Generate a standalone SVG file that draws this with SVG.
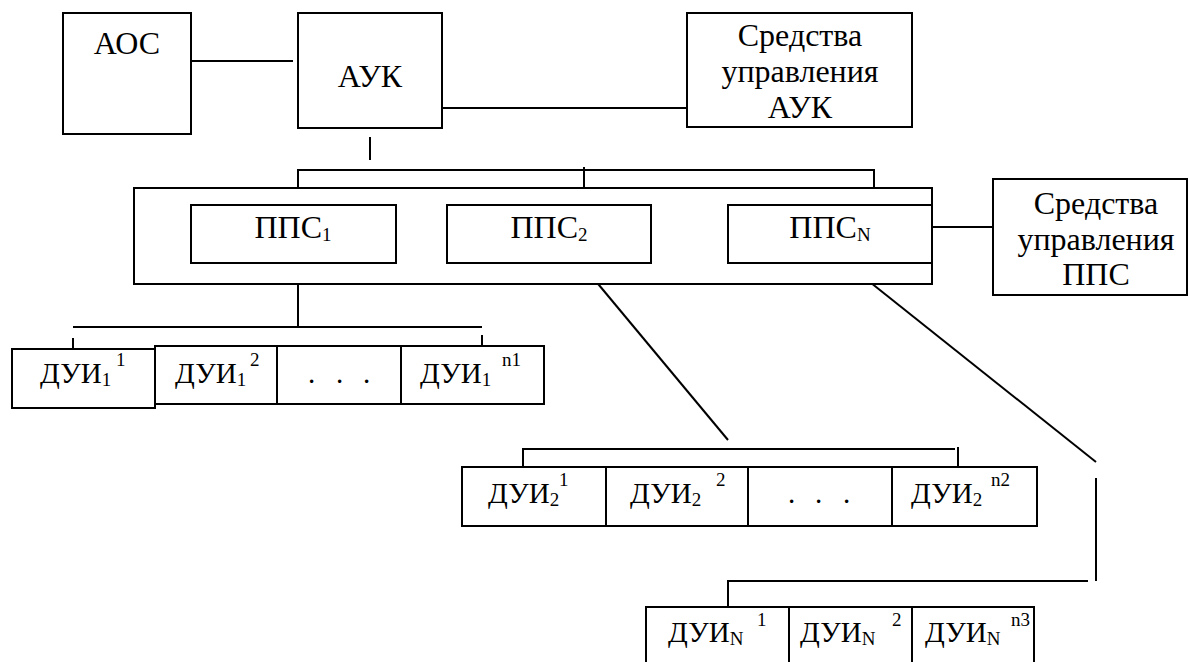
<svg xmlns="http://www.w3.org/2000/svg" width="1189" height="662" viewBox="0 0 1189 662" font-family="'Liberation Serif', 'DejaVu Serif', serif">
<style>
rect{fill:#fff;stroke:#000;stroke-width:2}
line,polyline{stroke:#000;stroke-width:2;fill:none}
text{fill:#000}
.t{font-size:32px}
.d{font-size:29px}
.s{font-size:19px}
</style>
<rect x="0" y="0" width="1189" height="662" style="stroke:none"/>
<g id="connectors">
<line x1="191" y1="61" x2="293" y2="61"/>
<line x1="442" y1="108" x2="687" y2="108"/>
<line x1="370" y1="137" x2="370" y2="160"/>
<polyline points="298,205 298,170 874,170 874,205"/>
<line x1="584" y1="167" x2="584" y2="205"/>
<line x1="932" y1="227" x2="993" y2="227"/>
<line x1="298" y1="268" x2="298" y2="327"/>
<line x1="73" y1="327" x2="482" y2="327"/>
<line x1="73" y1="338" x2="73" y2="353"/>
<line x1="482" y1="335" x2="482" y2="353"/>
<line x1="584" y1="267" x2="728" y2="440"/>
<polyline points="523,467 523,449 955,449"/>
<line x1="958" y1="447" x2="958" y2="470"/>
<line x1="851" y1="267" x2="1096" y2="462"/>
<line x1="1096" y1="478" x2="1096" y2="581"/>
<polyline points="728,607 728,581 1088,581"/>
</g>
<g id="aos">
<rect x="63" y="13" width="128" height="121"/>
<text class="t" x="127" y="54" text-anchor="middle">АОС</text>
</g>
<g id="auk">
<rect x="298" y="13" width="144" height="115"/>
<text class="t" x="370" y="87" text-anchor="middle">АУК</text>
</g>
<g id="sredstva-auk">
<rect x="687" y="13" width="225" height="114"/>
<text class="t" x="800" y="46" text-anchor="middle">Средства</text>
<text class="t" x="800" y="82" text-anchor="middle">управления</text>
<text class="t" x="800" y="118" text-anchor="middle">АУК</text>
</g>
<g id="pps-group">
<rect x="134" y="188" width="798" height="96"/>
</g>
<g id="pps1">
<rect x="191" y="205" width="205" height="58"/>
<text class="t" x="293" y="238" text-anchor="middle">ППС<tspan class="s" dy="3">1</tspan></text>
</g>
<g id="pps2">
<rect x="447" y="205" width="204" height="58"/>
<text class="t" x="549" y="238" text-anchor="middle">ППС<tspan class="s" dy="3">2</tspan></text>
</g>
<g id="ppsn">
<rect x="728" y="205" width="204" height="58"/>
<text class="t" x="830" y="238" text-anchor="middle">ППС<tspan class="s" dy="3">N</tspan></text>
</g>
<g id="sredstva-pps">
<rect x="993" y="179" width="194" height="116"/>
<text class="t" x="1096" y="214" text-anchor="middle">Средства</text>
<text class="t" x="1096" y="250" text-anchor="middle">управления</text>
<text class="t" x="1096" y="285" text-anchor="middle">ППС</text>
</g>
<g id="dui1-1">
<rect x="12" y="349" width="143" height="59"/>
<text class="d" x="40" y="383">ДУИ<tspan class="s" dy="3">1</tspan><tspan class="s" x="116" y="366">1</tspan></text>
</g>
<g id="dui1-2">
<rect x="155" y="346" width="122" height="58"/>
<text class="d" x="175" y="383">ДУИ<tspan class="s" dy="3">1</tspan><tspan class="s" x="250" y="366">2</tspan></text>
</g>
<g id="dui1-dots">
<rect x="277" y="346" width="124" height="58"/>
<text class="d" x="308 336 363" y="383">...</text>
</g>
<g id="dui1-n1">
<rect x="401" y="346" width="143" height="58"/>
<text class="d" x="420" y="383">ДУИ<tspan class="s" dy="3">1</tspan><tspan class="s" x="502" y="366">n1</tspan></text>
</g>
<g id="dui2-1">
<rect x="462" y="467" width="144" height="59"/>
<text class="d" x="488" y="503">ДУИ<tspan class="s" dy="3">2</tspan><tspan class="s" x="559" y="486">1</tspan></text>
</g>
<g id="dui2-2">
<rect x="606" y="467" width="142" height="59"/>
<text class="d" x="630" y="503">ДУИ<tspan class="s" dy="3">2</tspan><tspan class="s" x="716" y="486">2</tspan></text>
</g>
<g id="dui2-dots">
<rect x="748" y="467" width="144" height="59"/>
<text class="d" x="788 815 843" y="503">...</text>
</g>
<g id="dui2-n2">
<rect x="892" y="467" width="145" height="59"/>
<text class="d" x="911" y="503">ДУИ<tspan class="s" dy="3">2</tspan><tspan class="s" x="991" y="486">n2</tspan></text>
</g>
<g id="duin-1">
<rect x="646" y="607" width="143" height="70"/>
<text class="d" x="668" y="642">ДУИ<tspan class="s" dy="3">N</tspan><tspan class="s" x="757" y="626">1</tspan></text>
</g>
<g id="duin-2">
<rect x="789" y="607" width="123" height="70"/>
<text class="d" x="800" y="642">ДУИ<tspan class="s" dy="3">N</tspan><tspan class="s" x="892" y="626">2</tspan></text>
</g>
<g id="duin-n3">
<rect x="912" y="607" width="122" height="70"/>
<text class="d" x="925" y="642">ДУИ<tspan class="s" dy="3">N</tspan><tspan class="s" x="1011" y="626">n3</tspan></text>
</g>
</svg>
